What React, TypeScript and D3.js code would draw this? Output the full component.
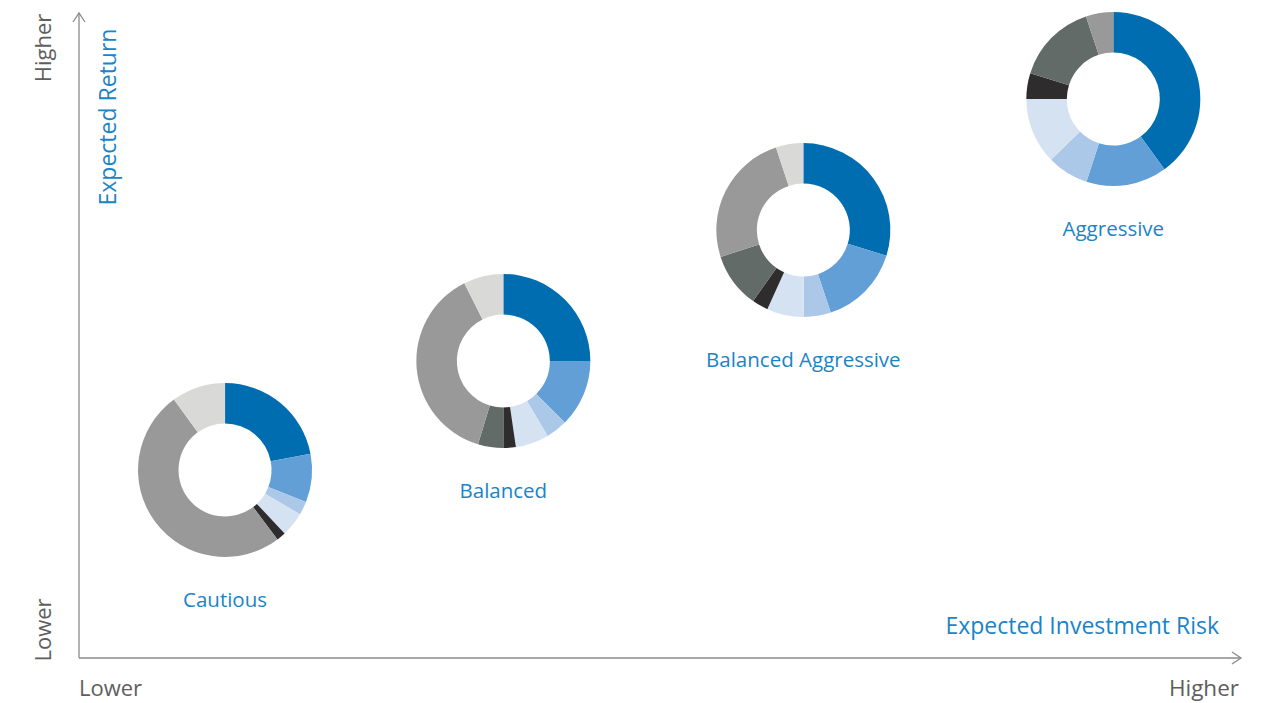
import React from "react";
import * as d3 from "d3";

const portfolios = ["Cautious", "Balanced", "Balanced Aggressive", "Aggressive"];
const riskPos = [0.1258, 0.3655, 0.6239, 0.8909]; // position along risk axis (0..1)
const returnPos = [0.2924, 0.4619, 0.6656, 0.8694]; // position along return axis (0..1)
const cautious = [22, 9, 2.5, 4.5, 1.7, 0, 50.3, 10];
const balanced = [25, 12.5, 4, 6.2, 2.3, 4.7, 37.9, 7.4];
const balancedAggressive = [29.8, 15.1, 5, 6.9, 3, 10.2, 24.9, 5.1];
const aggressive = [40, 15, 7.7, 12.3, 4.8, 15.1, 5.1, 0];
const sliceColors = ["#006db0", "#619fd6", "#abc8e8", "#d4e2f2", "#2e2c2d", "#626b67", "#999999", "#d9d9d7"];

const W = 1262;
const H = 703;

export default function App() {
  const series = [cautious, balanced, balancedAggressive, aggressive];
  const x = d3.scaleLinear().domain([0, 1]).range([79, 1240]);
  const y = d3.scaleLinear().domain([0, 1]).range([658, 15]);
  const pie = d3.pie<number>().sort(null).value((d) => d);
  const arc = d3.arc<d3.PieArcDatum<number>>().innerRadius(46.5).outerRadius(87);
  const grey = "#5e5e5e";
  const blue = "#1a84c7";
  const font = "'Open Sans', 'Noto Sans', sans-serif";
  return (
    <svg width={W} height={H} style={{ position: "absolute", left: 0, top: 0 }} fontFamily={font}>
      <rect width={W} height={H} fill="#fff" />
      {/* axes */}
      <line x1={79} y1={658} x2={79} y2={13} stroke="#8a8a8a" strokeWidth={1.3} />
      <polyline points="73,22 79,13 85,22" fill="none" stroke="#8a8a8a" strokeWidth={1.3} />
      <line x1={79} y1={658} x2={1241} y2={658} stroke="#8a8a8a" strokeWidth={1.3} />
      <polyline points="1232,652 1241,658 1232,664" fill="none" stroke="#8a8a8a" strokeWidth={1.3} />
      {/* axis texts */}
      <text transform="translate(51,48) rotate(-90)" textAnchor="middle" fontSize={22} fill={grey}>Higher</text>
      <text transform="translate(51,630) rotate(-90)" textAnchor="middle" fontSize={22} fill={grey}>Lower</text>
      <text transform="translate(116,117) rotate(-90)" textAnchor="middle" fontSize={23} fill={blue}>Expected Return</text>
      <text x={79} y={696} fontSize={22} fill={grey}>Lower</text>
      <text x={1239} y={696} textAnchor="end" fontSize={22.5} fill={grey}>Higher</text>
      <text x={1219} y={634} textAnchor="end" fontSize={23} fill={blue}>Expected Investment Risk</text>
      {portfolios.map((name, i) => {
        const cx = x(riskPos[i]);
        const cy = y(returnPos[i]);
        return (
          <g key={name}>
            <g transform={`translate(${cx},${cy})`}>
              {pie(series[i]).map((d, j) => (
                <path key={j} d={arc(d) || ""} fill={sliceColors[j]} />
              ))}
            </g>
            <text x={cx} y={cy + 137} textAnchor="middle" fontSize={20.5} fill={blue}>{name}</text>
          </g>
        );
      })}
    </svg>
  );
}
